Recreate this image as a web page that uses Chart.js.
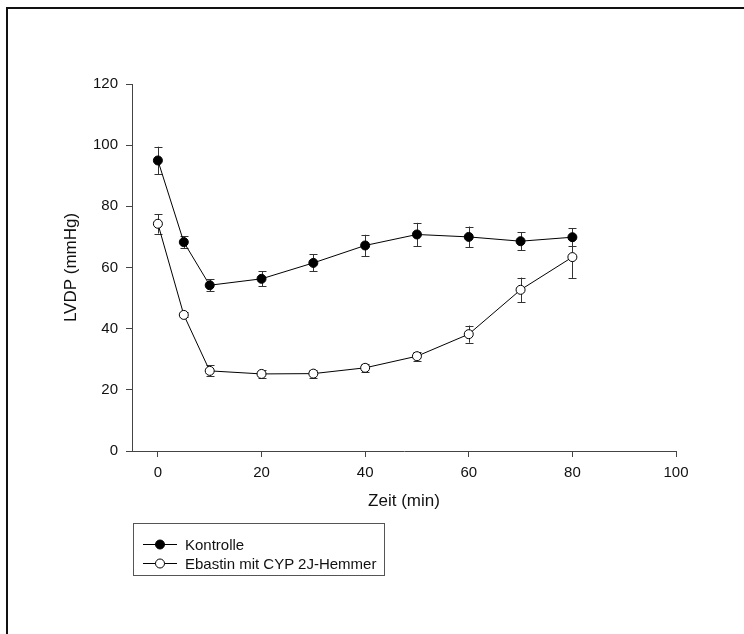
<!DOCTYPE html>
<html>
<head>
<meta charset="utf-8">
<script src="https://cdn.jsdelivr.net/npm/chart.js@4.4.1/dist/chart.umd.min.js"></script>
<style>
  body { margin: 0; background: #fff; }
  #wrap { position: relative; width: 744px; height: 634px; overflow: hidden; }
  #frame { position: absolute; left: 6px; top: 7px; width: 800px; height: 700px;
           border-left: 2px solid #111; border-top: 2px solid #111; pointer-events: none; }
  #legend { position: absolute; left: 133px; top: 523px; width: 252px; height: 53px;
            border: 1px solid #555; box-sizing: border-box;
            font-family: Arial, "Liberation Sans", sans-serif; font-size: 15px; color: #111; }
  .item { position: absolute; left: 0; height: 20px; display: flex; align-items: center; }
  .item svg { margin-left: 9px; margin-right: 8px; }
</style>
</head>
<body>
<div id="wrap">
  <canvas id="lvdp-chart"></canvas>
  <div id="frame"></div>
  <div id="legend"></div>
</div>
<script>
// time points (min)
const times = [0, 5, 10, 20, 30, 40, 50, 60, 70, 80];
// LVDP (mmHg), mean and SEM
const kontrolle = [95.0, 68.3, 54.2, 56.3, 61.5, 67.2, 70.8, 70.0, 68.6, 69.9];
const kontrolleErr = [4.5, 1.9, 2.0, 2.5, 2.8, 3.5, 3.8, 3.4, 3.0, 2.9];
const ebastin = [74.3, 44.5, 26.2, 25.2, 25.3, 27.2, 31.0, 38.2, 52.7, 63.4];
const ebastinErr = [3.2, 0.8, 1.8, 1.3, 1.3, 1.3, 1.5, 2.8, 4.0, 6.8];
const xTicks = [0, 20, 40, 60, 80, 100];
const yTicks = [0, 20, 40, 60, 80, 100, 120];

const FONT = 'Arial, "Liberation Sans", sans-serif';
const AXIS = '#444';

// vertical error bars with caps, drawn under the markers
const errorBars = {
    id: 'errorBars',
    beforeDatasetsDraw(chart) {
        const ctx = chart.ctx;
        const x = chart.scales.x, y = chart.scales.y;
        ctx.save();
        ctx.strokeStyle = '#333';
        ctx.lineWidth = 1;
        chart.data.datasets.forEach(ds => {
            ds.data.forEach((p, i) => {
                const e = ds.errors[i];
                const px = Math.round(x.getPixelForValue(p.x)) + 0.5;
                const top = y.getPixelForValue(p.y + e);
                const bot = y.getPixelForValue(p.y - e);
                ctx.beginPath();
                ctx.moveTo(px, top); ctx.lineTo(px, bot);
                ctx.moveTo(px - 4, Math.round(top) + 0.5); ctx.lineTo(px + 4, Math.round(top) + 0.5);
                ctx.moveTo(px - 4, Math.round(bot) + 0.5); ctx.lineTo(px + 4, Math.round(bot) + 0.5);
                ctx.stroke();
            });
        });
        ctx.restore();
    }
};

const toPoints = vals => vals.map((v, i) => ({x: times[i], y: v}));

const ctx = document.getElementById('lvdp-chart').getContext('2d');
const chart = new Chart(ctx, {
    type: 'line',
    data: {
        datasets: [{
            label: 'Kontrolle',
            data: toPoints(kontrolle),
            errors: kontrolleErr,
            borderColor: '#000',
            borderWidth: 1,
            pointBackgroundColor: '#000',
            pointBorderColor: '#000',
            pointBorderWidth: 1,
            pointRadius: 4.5,
            tension: 0
        }, {
            label: 'Ebastin mit CYP 2J-Hemmer',
            data: toPoints(ebastin),
            errors: ebastinErr,
            borderColor: '#000',
            borderWidth: 1,
            pointBackgroundColor: '#fff',
            pointBorderColor: '#000',
            pointBorderWidth: 1,
            pointRadius: 4.5,
            tension: 0
        }]
    },
    options: {
        responsive: true,
        maintainAspectRatio: false,
        animation: false,
        layout: { padding: { left: 50, top: 84, right: 68, bottom: 122 } },
        plugins: { legend: { display: false }, tooltip: { enabled: false } },
        scales: {
            x: {
                type: 'linear',
                min: -5,
                max: 100,
                afterBuildTicks: s => { s.ticks = xTicks.map(v => ({value: v})); },
                afterFit: s => { s.height = 61; },
                grid: { drawOnChartArea: false, drawTicks: true, tickLength: 6, color: AXIS, tickWidth: 1 },
                border: { display: true, color: AXIS, width: 1 },
                ticks: { padding: 7, color: '#111', font: { family: FONT, size: 15 } },
                title: { display: true, text: 'Zeit (min)', color: '#111',
                         font: { family: FONT, size: 17 }, padding: { top: 0, bottom: 0 } }
            },
            y: {
                type: 'linear',
                min: 0,
                max: 120,
                afterBuildTicks: s => { s.ticks = yTicks.map(v => ({value: v})); },
                afterFit: s => { s.width = 82; },
                grid: { drawOnChartArea: false, drawTicks: true, tickLength: 6, color: AXIS, tickWidth: 1 },
                border: { display: true, color: AXIS, width: 1 },
                ticks: { padding: 8, color: '#111', font: { family: FONT, size: 15 } },
                title: { display: true, text: 'LVDP (mmHg)', color: '#111',
                         font: { family: FONT, size: 17 }, padding: { top: 11, bottom: 0 } }
            }
        }
    },
    plugins: [errorBars]
});

// boxed legend: line sample with marker, then the label
const legend = document.getElementById('legend');
chart.data.datasets.forEach((ds, i) => {
    const row = document.createElement('div');
    row.className = 'item';
    row.style.top = (10 + i * 19.5) + 'px';
    row.innerHTML =
        '<svg width="34" height="13"><line x1="0" y1="6.5" x2="34" y2="6.5" stroke="#000" stroke-width="1"/>' +
        '<circle cx="17" cy="6.5" r="4.5" fill="' + ds.pointBackgroundColor + '" stroke="#000" stroke-width="1"/></svg>' +
        '<span>' + ds.label + '</span>';
    legend.appendChild(row);
});
</script>
</body>
</html>
